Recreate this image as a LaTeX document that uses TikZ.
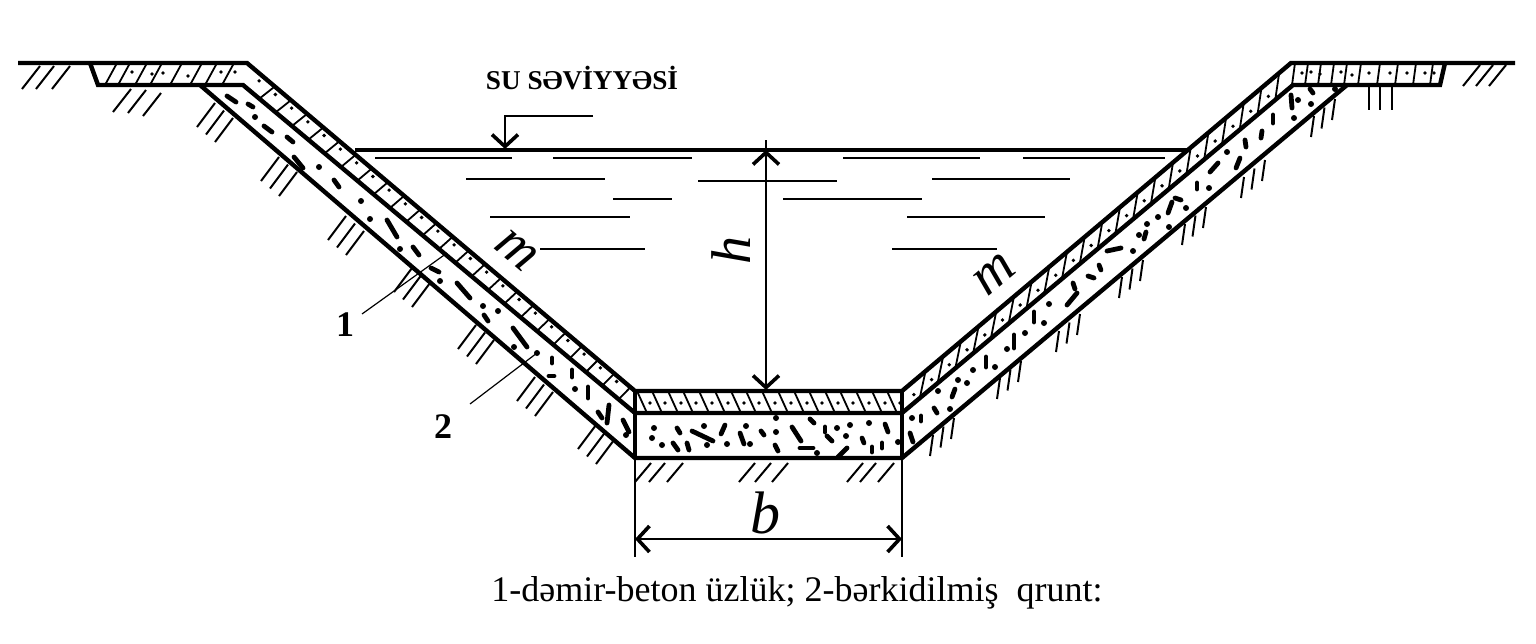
\documentclass[tikz,border=0pt]{standalone}
\usepackage{fontspec}
\setmainfont{Liberation Serif}
\usetikzlibrary{calc,arrows.meta}
\begin{document}
\begin{tikzpicture}[x=0.5pt,y=-0.5pt,
  wall/.style={line width=2.2pt,line join=miter},
  ripple/.style={line width=1pt},
  hatch/.style={line width=1pt},
  cell/.style={line width=0.9pt},
  grain/.style={line width=2.4pt,line cap=round},
  dimline/.style={line width=0.9pt,{Straight Barb[length=6pt,width=13pt,line width=1.8pt]}-{Straight Barb[length=6pt,width=13pt,line width=1.8pt]}},
  leader/.style={line width=0.6pt}]
\useasboundingbox (0,0) rectangle (1536,643);
% profile of the channel
\coordinate (gl) at (18,63);
\coordinate (tl) at (247,63);
\coordinate (bl) at (635,391);
\coordinate (br) at (902,391);
\coordinate (tr) at (1291,63);
\coordinate (gr) at (1515,63);
\coordinate (el) at (90,63);
\coordinate (fl) at (98,85);
\coordinate (il) at (243,85);
\coordinate (jl) at (635,413);
\coordinate (jr) at (902,413);
\coordinate (ir) at (1293,85);
\coordinate (fr) at (1440,85);
\coordinate (er) at (1445,63);
\coordinate (sl) at (200,85);
\coordinate (ql) at (635,458);
\coordinate (qr) at (902,458);
\coordinate (sr) at (1347,85);
\draw[wall] (gl) -- (tl) -- (bl) -- (br) -- (tr) -- (gr);
\draw[wall] (el) -- (fl) -- (il) -- (jl) -- (jr) -- (ir) -- (fr) -- (er);
\draw[wall] (sl) -- (ql) -- (qr) -- (sr);
\draw[wall] (bl) -- (ql);
\draw[wall] (br) -- (qr);
% water
\coordinate (wl) at (355,150);
\coordinate (wr) at (1188,150);
\draw[wall] (wl) -- (wr);
\foreach \xa/\xb/\ya in {375/512/158,553/692/158,843/980/158,1023/1165/158,
  466/605/179,698/837/181,932/1070/179,613/672/199,783/922/199,
  490/630/217,907/1045/217,540/645/249,892/997/249}
  \draw[ripple] (\xa,\ya) -- (\xb,\ya);
% ground hatching
\foreach \xa/\ya in {22/89,36/89,52/89,113/112,128/113,143/116}
  \draw[hatch] (\xa,\ya) -- ++(18,-23);
\foreach \xa/\ya in {197/127,261/181,328/240,394/292,458/349,517/401,578/449}
  \foreach \k in {0,1,2}
    \draw[hatch] (\xa+9*\k,\ya+7.5*\k) -- ++(18,-24);
\foreach \xa in {635,649,667,739,755,772,847,860,878}
  \draw[hatch] (\xa,482) -- ++(16,-19);
\foreach \xa/\ya in {930/456,997/399,1056/352,1119/298,1182/245,1241/198,1311/137}
  \foreach \k in {0,1,2}
    \draw[hatch] (\xa+10.5*\k,\ya-8.5*\k) -- ++(3,-21);
\foreach \xa in {1369,1380,1392}
  \draw[hatch] (\xa,85) -- ++(0,25);
\foreach \xa in {1463,1476,1489}
  \draw[hatch] (\xa,86) -- ++(17,-21);
% cells of the lining
\foreach \k in {1,...,23}{
  \pgfmathsetmacro{\ta}{\k/24}
  \pgfmathsetmacro{\tb}{\k/24+0.03}
  \draw[cell] ($(il)!\ta!(jl)$) -- ($(tl)!\tb!(bl)$);
  \pgfmathsetmacro{\tc}{(\k-0.5)/24}
  \fill ($(251,74)!\tc!(641,402)$) circle (1.9);
}
\foreach \k in {1,...,21}{
  \pgfmathsetmacro{\ta}{\k/22}
  \pgfmathsetmacro{\tb}{\k/22+0.015}
  \draw[cell] ($(jr)!\ta!(ir)$) -- ($(br)!\tb!(tr)$);
  \pgfmathsetmacro{\tc}{(\k-0.5)/22}
  \fill ($(905,402)!\tc!(1295,74)$) circle (1.9);
}
\foreach \xa in {637,652,668,683,699,715,731,746,762,778,794,809,825,840,856,872,887}{
  \draw[cell] (\xa,391) -- (\xa+10,413);
  \fill (\xa+13,403) circle (1.9);
}
\foreach \xa in {105,118,135,150,170,190,205,222}
  \draw[cell] (\xa,85) -- (\xa+12,63);
\foreach \xa/\ya in {132/72,152/74,163/73,188/76,221/72,235/72}
  \fill (\xa,\ya) circle (1.9);
\foreach \xa in {1292,1305,1318,1331,1344,1358,1377,1395,1413,1430}
  \draw[cell] (\xa,85) -- (\xa+3,63);
\foreach \xa/\ya in {1302/73,1311/72,1320/74,1341/72,1352/75,1369/73,1390/73,1407/73,1425/73,1434/73}
  \fill (\xa,\ya) circle (1.9);
% grains of the soil
\foreach \xa/\ya in {654/428,652/438,662/445,704/426,707/445,727/444,746/426,750/444,776/418,776/432,817/453,837/428,850/425,846/436,869/423,898/442,
  255/117,319/167,361/201,370/219,400/249,440/281,483/306,498/311,514/347,537/353,575/389,626/435,
  912/418,950/409,938/391,958/380,967/383,973/370,995/367,1007/349,1025/333,1044/323,1049/304,1133/251,1139/235,1147/224,1158/217,1169/227,1186/208,1209/188,1227/152,1294/118,1298/100,1311/104,1335/89}
  \fill (\xa,\ya) circle (3);
\foreach \xa/\ya/\xb/\yb in {677/428/680/433,692/431/713/441,673/443/678/450,687/443/689/450,725/425/721/434,740/433/744/444,761/431/764/435,775/445/778/451,792/427/801/441,800/448/813/448,810/419/814/423,825/427/825/432,827/436/832/441,847/448/838/457,862/438/864/443,872/447/872/452,882/443/882/448,885/424/888/432,
  227/96/236/102,248/104/253/107,264/126/272/132,287/137/293/142,294/157/303/168,334/180/339/187,387/220/397/237,413/247/419/255,431/268/439/272,457/283/470/298,484/315/488/321,513/328/527/347,552/358/552/363,572/370/572/377,549/376/554/376,588/387/588/398,598/412/602/418,609/405/607/423,623/420/629/432,
  921/416/921/421,910/433/913/442,934/408/937/413,955/389/952/397,986/357/986/367,1014/335/1014/348,1034/312/1034/322,1067/305/1077/293,1073/283/1075/289,1088/276/1094/278,1099/265/1101/270,1107/251/1121/248,1146/232/1144/239,1172/202/1168/213,1175/198/1181/200,1197/183/1197/189,1218/163/1210/172,1240/158/1236/168,1245/140/1246/147,1262/131/1261/138,1273/115/1273/123,1291/95/1292/108,1310/89/1313/93}
  \draw[grain] (\xa,\ya) -- (\xb,\yb);
% water level mark
\node[font=\bfseries\fontsize{13.6}{13.6}\selectfont] (level) at (582,78) {SU SƏVİYYƏSİ};
\coordinate (flag) at (593,116);
\coordinate (flagc) at (505,116);
\coordinate (flagt) at (505,149);
\draw[line width=0.9pt,-{Straight Barb[length=6pt,width=13pt,line width=1.8pt]}] (flag) -- (flagc) -- (flagt);
% dimensions
\coordinate (ht) at (766,150);
\coordinate (hb) at (766,390);
\coordinate (hx) at (766,140);
\draw[dimline] (ht) -- (hb);
\draw[line width=0.9pt] (hx) -- (ht);
\coordinate (dl) at (635,539);
\coordinate (dr) at (902,539);
\coordinate (vl) at (635,557);
\coordinate (vr) at (902,557);
\draw[line width=0.7pt] (ql) -- (vl);
\draw[line width=1.1pt] (qr) -- (vr);
\draw[dimline] (dl) -- (dr);
\node[font=\itshape\fontsize{30}{30}\selectfont] (blabel) at (765,513) {b};
\node[font=\itshape\fontsize{28}{28}\selectfont,rotate=90] (hlabel) at (731,250) {h};
\node[font=\itshape\fontsize{28}{28}\selectfont,rotate=-40] (mleft) at (516,250) {m};
\node[font=\itshape\fontsize{28}{28}\selectfont,rotate=40] (mright) at (994,274) {m};
% leaders
\node[font=\bfseries\fontsize{18}{18}\selectfont] (one) at (345,325) {1};
\node[font=\bfseries\fontsize{18}{18}\selectfont] (two) at (443,427) {2};
\coordinate (onea) at (362,314);
\coordinate (oneb) at (447,253);
\coordinate (twoa) at (470,404);
\coordinate (twob) at (537,353);
\draw[leader] (onea) -- (oneb);
\draw[leader] (twoa) -- (twob);
% caption
\node[font=\fontsize{18}{18}\selectfont] (caption) at (797,593) {1-dəmir-beton üzlük; 2-bərkidilmiş\ \ qrunt:};
\end{tikzpicture}
\end{document}
